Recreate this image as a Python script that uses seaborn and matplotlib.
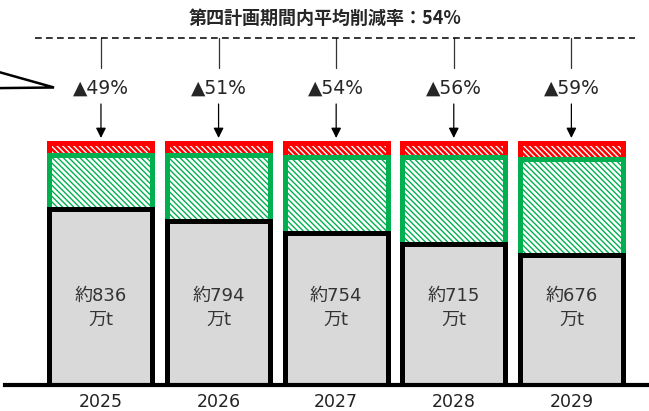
import numpy as np
import pandas as pd
import matplotlib
matplotlib.use('Agg')
import matplotlib.pyplot as plt
import matplotlib.transforms as mtransforms
from matplotlib.patches import Polygon
import seaborn as sns

# ---- data ----
years = ['2025', '2026', '2027', '2028', '2029']
emissions = [836, 794, 754, 715, 676]          # 万t (gray part)
reduction_seg = [193, 234, 268, 306, 337]      # green segment (chart units)
top_seg = [42, 43, 49, 50, 58]                 # red segment (chart units)
reduction_pct = [49, 51, 54, 56, 59]
avg_pct = 54
title_text = f'第四計画期間内平均削減率：{avg_pct}%'

sns.set_theme(style='white')
plt.rcParams['font.family'] = ['DejaVu Sans', 'Noto Sans CJK JP']
plt.rcParams['hatch.linewidth'] = 1.0

W, H = 649, 411
fig = plt.figure(figsize=(W / 100, H / 100), dpi=100)
ax = fig.add_axes([5 / W, (H - 385) / H, (W - 5) / W, 385 / H])

gray = np.array(emissions, float)
green_top = gray + np.array(reduction_seg, float)
red_top = green_top + np.array(top_seg, float)
df = pd.DataFrame({'year': years, 'gray': gray, 'green': green_top, 'red': red_top})

bw = 0.876
lw = 3.6
RED = '#FF0000'
GREEN = '#00B050'
HATCH = '\\' * 6

# red segment: red fill with white hatch, then a red outline
sns.barplot(data=df, x='year', y='red', color=RED, saturation=1, width=bw,
            errorbar=None, edgecolor='white', linewidth=0, hatch=HATCH, ax=ax)
sns.barplot(data=df, x='year', y='red', saturation=1, width=bw, fill=False,
            errorbar=None, color=RED, edgecolor=RED, linewidth=lw, ax=ax)
sns.barplot(data=df, x='year', y='green', color='white', saturation=1, width=bw,
            errorbar=None, edgecolor=GREEN, linewidth=lw, hatch=HATCH, ax=ax)
sns.barplot(data=df, x='year', y='gray', color='#D9D9D9', saturation=1, width=bw,
            errorbar=None, edgecolor='black', linewidth=lw, ax=ax)

ax.set_xlim(-0.816, 4.66)
ax.set_ylim(219, 219 + 385 / 0.2845)
for s in ['left', 'right', 'top']:
    ax.spines[s].set_visible(False)
ax.spines['bottom'].set_linewidth(3)
ax.spines['bottom'].set_color('black')
ax.set_yticks([])
ax.set_xlabel('')
ax.set_ylabel('')
ax.tick_params(axis='x', length=0, pad=5.5, labelsize=12.5, labelcolor='#222222')

trans = mtransforms.blended_transform_factory(ax.transData, ax.transAxes)

for i, v in enumerate(emissions):
    ax.text(i, 0.2, f'約{v}\n万t', transform=trans, ha='center', va='center',
            fontsize=13, linespacing=1.42, color='#333333')

for i, p in enumerate(reduction_pct):
    ax.plot([i, i], [0.902, 0.8234], transform=trans, color='#333333', lw=0.9,
            clip_on=False)
    ax.text(i, 0.7714, f'▲{p}%', transform=trans, ha='center', va='center',
            fontsize=13.5, color='#262626')
    ax.annotate('', xy=(i, 0.6416), xycoords=trans, xytext=(i, 0.7299),
                textcoords=trans,
                arrowprops=dict(arrowstyle='-|>,head_length=0.4,head_width=0.2',
                                mutation_scale=15, lw=0.9, color='black',
                                shrinkA=0, shrinkB=0))

ax.plot([30 / 644, 630 / 644], [0.902, 0.902], transform=ax.transAxes,
        ls=(0, (4.4, 2.8)), lw=1.1, color='black', clip_on=False)

fig.text(325 / W, 1 - 18 / H, title_text, ha='center', va='center', fontsize=13,
         fontweight='bold', family=['Noto Sans CJK JP', 'DejaVu Sans'])

pts = [(-10, 69.5), (54, 87.5), (-10, 88.2)]
poly = Polygon([(x / W, 1 - y / H) for x, y in pts], closed=True,
               transform=fig.transFigure, facecolor='white', edgecolor='black',
               lw=1.8, clip_on=False)
fig.patches.append(poly)

fig.savefig('out.png', dpi=100)
